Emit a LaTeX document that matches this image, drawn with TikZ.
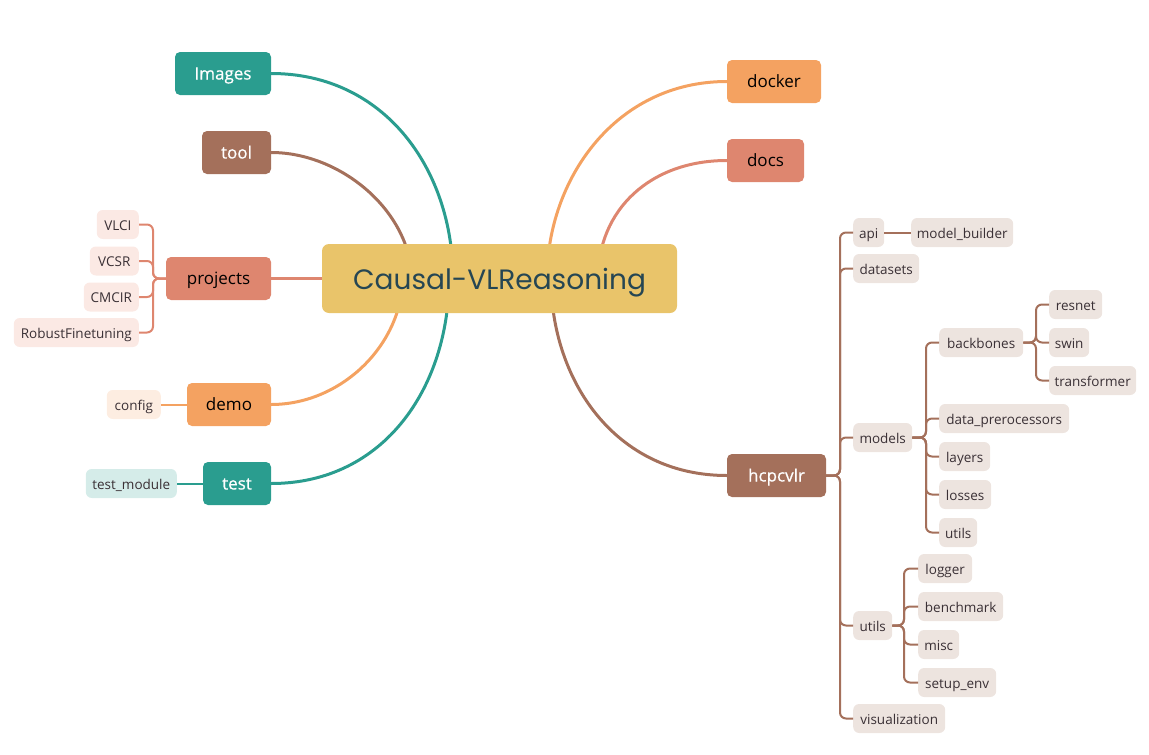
\documentclass[tikz,border=0pt]{standalone}
\usepackage{fontspec}
\setmainfont{Open Sans}
\newfontfamily\titlefont{Poppins}
\newfontfamily\semib[FakeBold=0.6]{Open Sans}
\usetikzlibrary{backgrounds}
\definecolor{cTeal}{HTML}{2A9D8F}
\definecolor{cBrown}{HTML}{A4705B}
\definecolor{cSalmon}{HTML}{DE866F}
\definecolor{cOrange}{HTML}{F4A261}
\definecolor{cYellow}{HTML}{E9C46A}
\definecolor{cDark}{HTML}{264653}
\definecolor{lSalmon}{HTML}{FBE9E4}
\definecolor{lOrange}{HTML}{FDEDE1}
\definecolor{lTeal}{HTML}{D5ECE9}
\definecolor{lBrown}{HTML}{EDE4DF}
\definecolor{leafText}{HTML}{3A3035}
\tikzset{
  mainbox/.style={rounded corners=5pt, inner sep=0pt, minimum height=43pt, text height=13pt, text depth=1pt, font=\fontsize{17}{20}\selectfont},
  whitebox/.style={mainbox, text=white, font=\semib\fontsize{17}{20}\selectfont},
  leafbox/.style={rounded corners=6pt, inner sep=0pt, minimum height=29pt, text height=11.5pt, text depth=0.5pt, text=leafText, font=\fontsize{13.5}{16}\selectfont},
  bigline/.style={line width=3pt},
  treeline/.style={line width=2pt, rounded corners=6pt},
}
\begin{document}
\begin{tikzpicture}[x=1pt,y=-1pt]
\useasboundingbox (0,0) rectangle (1149,755);

% central node
\node[rounded corners=7pt, fill=cYellow, minimum width=355pt, minimum height=69pt, inner sep=0pt,
      text height=22pt, text depth=0.4pt,
      text=cDark, font=\titlefont\fontsize{28}{32}\selectfont] (root) at (499.5,278.5) {Causal-VLReasoning};

% main branches
\node[whitebox, fill=cTeal, minimum width=96pt] (images) at (223,73.5) {Images};
\node[whitebox, fill=cBrown, minimum width=69pt] (tool) at (236.5,152.5) {tool};
\node[mainbox, fill=cSalmon, text=black, minimum width=105pt] (projects) at (218.5,278.5) {projects};
\node[mainbox, fill=cOrange, text=black, minimum width=84pt] (demo) at (229,404.5) {demo};
\node[whitebox, fill=cTeal, minimum width=68pt] (test) at (237,483.5) {test};
\node[mainbox, fill=cOrange, text=black, minimum width=94pt] (docker) at (774,81.5) {docker};
\node[mainbox, fill=cSalmon, text=black, minimum width=77pt] (docs) at (765.5,160.5) {docs};
\node[whitebox, fill=cBrown, minimum width=99pt] (hcpcvlr) at (776.5,475.5) {hcpcvlr};

% curve end points inside the central node
\coordinate (eImages) at (453,278.5);
\coordinate (eTool) at (412,278.5);
\coordinate (eDemo) at (403,278.5);
\coordinate (eTest) at (449,278.5);
\coordinate (eDocker) at (547,278.5);
\coordinate (eDocs) at (598,278.5);
\coordinate (eHcp) at (551,278.5);

\begin{pgfonlayer}{background}
\draw[bigline, cTeal] (images.east) .. controls (385,73.5) and (453,170) .. (eImages);
\draw[bigline, cBrown] (tool.east) .. controls (340,152.5) and (410,210) .. (eTool);
\draw[bigline, cSalmon] (projects.east) -- (root.west);
\draw[bigline, cOrange] (demo.east) .. controls (340,404.5) and (401,347) .. (eDemo);
\draw[bigline, cTeal] (test.east) .. controls (385,483.5) and (449,386) .. (eTest);
\draw[bigline, cOrange] (docker.west) .. controls (615,81.5) and (547,180) .. (eDocker);
\draw[bigline, cSalmon] (docs.west) .. controls (650,160.5) and (598,210) .. (eDocs);
\draw[bigline, cBrown] (hcpcvlr.west) .. controls (615,475.5) and (551,380) .. (eHcp);
\end{pgfonlayer}

% projects children
\node[leafbox, fill=lSalmon, anchor=east, minimum width=42pt] (vlci) at (139,224.5) {VLCI};
\node[leafbox, fill=lSalmon, anchor=east, minimum width=49pt] (vcsr) at (139,261) {VCSR};
\node[leafbox, fill=lSalmon, anchor=east, minimum width=55pt] (cmcir) at (139,297) {CMCIR};
\node[leafbox, fill=lSalmon, anchor=east, minimum width=125pt] (robust) at (139,332.5) {RobustFinetuning};
\foreach \c in {vlci,vcsr,cmcir,robust}
  \draw[treeline, cSalmon] (projects.west) -- (153,278.5) |- (\c.east);

% demo / test children
\node[leafbox, fill=lOrange, anchor=east, minimum width=54pt] (config) at (161,404.5) {config};
\draw[treeline, cOrange] (demo.west) -- (config.east);
\node[leafbox, fill=lTeal, anchor=east, minimum width=91pt] (testmod) at (177,483.5) {test\_module};
\draw[treeline, cTeal] (test.west) -- (testmod.east);

% hcpcvlr subtree
\node[leafbox, fill=lBrown, anchor=west, minimum width=31pt] (api) at (853,232.5) {api};
\node[leafbox, fill=lBrown, anchor=west, minimum width=102pt] (mb) at (911,232.5) {model\_builder};
\node[leafbox, fill=lBrown, anchor=west, minimum width=66pt] (datasets) at (853,268.5) {datasets};
\node[leafbox, fill=lBrown, anchor=west, minimum width=59pt] (models) at (853,437.5) {models};
\node[leafbox, fill=lBrown, anchor=west, minimum width=39pt] (utils) at (853,625.5) {utils};
\node[leafbox, fill=lBrown, anchor=west, minimum width=92pt] (vis) at (853,718.5) {visualization};
\foreach \c in {api,datasets,models,utils,vis}
  \draw[treeline, cBrown] (hcpcvlr.east) -- (840,475.5) |- (\c.west);
\draw[treeline, cBrown] (api.east) -- (mb.west);

\node[leafbox, fill=lBrown, anchor=west, minimum width=84pt] (backbones) at (939,342.5) {backbones};
\node[leafbox, fill=lBrown, anchor=west, minimum width=130pt] (dataprep) at (939,418.5) {data\_prerocessors};
\node[leafbox, fill=lBrown, anchor=west, minimum width=51pt] (layers) at (939,456.5) {layers};
\node[leafbox, fill=lBrown, anchor=west, minimum width=52pt] (losses) at (939,494.5) {losses};
\node[leafbox, fill=lBrown, anchor=west, minimum width=38pt] (mutils) at (939,532.5) {utils};
\foreach \c in {backbones,dataprep,layers,losses,mutils}
  \draw[treeline, cBrown] (models.east) -- (926,437.5) |- (\c.west);

\node[leafbox, fill=lBrown, anchor=west, minimum width=53pt] (resnet) at (1049,304.5) {resnet};
\node[leafbox, fill=lBrown, anchor=west, minimum width=40pt] (swin) at (1049,342.5) {swin};
\node[leafbox, fill=lBrown, anchor=west, minimum width=87pt] (transformer) at (1049,380.5) {transformer};
\foreach \c in {resnet,swin,transformer}
  \draw[treeline, cBrown] (backbones.east) -- (1036,342.5) |- (\c.west);

\node[leafbox, fill=lBrown, anchor=west, minimum width=54pt] (logger) at (918,568.5) {logger};
\node[leafbox, fill=lBrown, anchor=west, minimum width=85pt] (benchmark) at (918,606.5) {benchmark};
\node[leafbox, fill=lBrown, anchor=west, minimum width=41pt] (misc) at (918,644.5) {misc};
\node[leafbox, fill=lBrown, anchor=west, minimum width=78pt] (setupenv) at (918,682.5) {setup\_env};
\foreach \c in {logger,benchmark,misc,setupenv}
  \draw[treeline, cBrown] (utils.east) -- (904,625.5) |- (\c.west);
\end{tikzpicture}
\end{document}
